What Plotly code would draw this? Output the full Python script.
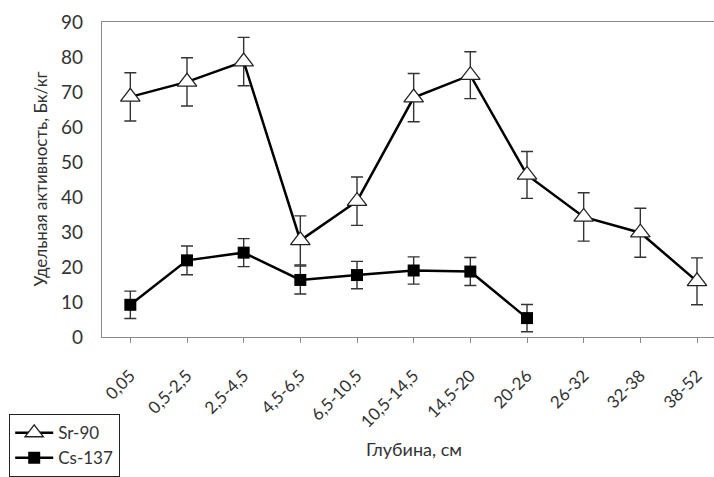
import plotly.graph_objects as go

# Depth intervals, cm
depths = ["0,05", "0,5-2,5", "2,5-4,5", "4,5-6,5", "6,5-10,5", "10,5-14,5",
          "14,5-20", "20-26", "26-32", "32-38", "38-52"]

# Specific activity, Bq/kg, with error bar half-widths
sr90 = [68.6, 72.9, 78.7, 27.6, 38.8, 68.4, 74.8, 46.3, 34.3, 29.8, 15.9]
sr90_err = [6.9, 6.9, 6.9, 7.0, 6.9, 6.9, 6.7, 6.7, 6.9, 7.0, 6.7]

cs137 = [9.2, 21.9, 24.1, 16.3, 17.7, 19.0, 18.7, 5.4]
cs137_err = [3.9, 4.1, 4.0, 4.0, 3.9, 3.9, 4.0, 3.9]

FONT = "Lato, 'Liberation Sans', sans-serif"
TXT = "#333333"
AX = "#8a8a8a"

fig = go.Figure()

fig.add_trace(go.Scatter(
    x=depths, y=sr90, name="Sr-90", mode="lines+markers",
    line=dict(color="black", width=2.5),
    marker=dict(symbol="triangle-up", size=17, color="white",
                line=dict(color="#222", width=1.3)),
    error_y=dict(type="data", array=sr90_err, visible=True,
                 color="#333", thickness=1.4, width=6),
))

fig.add_trace(go.Scatter(
    x=depths[:len(cs137)], y=cs137, name="Cs-137", mode="lines+markers",
    line=dict(color="black", width=2.5),
    marker=dict(symbol="square", size=12, color="black",
                line=dict(color="black", width=0)),
    error_y=dict(type="data", array=cs137_err, visible=True,
                 color="#333", thickness=1.4, width=6),
))

fig.update_layout(
    width=714, height=477,
    margin=dict(l=102, r=0, t=22, b=139),
    paper_bgcolor="white", plot_bgcolor="white",
    font=dict(family=FONT, color=TXT, size=15),
    showlegend=True,
    legend=dict(
        x=(9 - 102) / 612, y=(338 - 415) / 316, xanchor="left", yanchor="top",
        bgcolor="white", bordercolor="#222", borderwidth=1.2,
        font=dict(size=17, color=TXT), tracegroupgap=0,
        itemwidth=38,
    ),
    xaxis=dict(
        type="category", categoryorder="array", categoryarray=depths,
        range=[-0.5, 10.3],
        showline=True, linecolor=AX, linewidth=1.3, mirror=True,
        showgrid=False, zeroline=False,
        ticks="outside", ticklen=5, tickcolor=AX, tickwidth=1,
        tickangle=-45, ticklabelstandoff=16,
        tickfont=dict(size=17, color=TXT),
    ),
    yaxis=dict(
        range=[0, 90], dtick=10,
        showline=True, linecolor=AX, linewidth=1.3, mirror=False,
        showgrid=False, zeroline=False,
        ticks="", ticklabelstandoff=14,
        tickfont=dict(size=19, color=TXT),
    ),
    annotations=[
        dict(text="Удельная активность, Бк/кг", xref="paper", yref="paper",
             x=(40 - 102) / 612, y=0.5, textangle=-90, showarrow=False,
             xanchor="center", yanchor="middle",
             font=dict(size=17, color=TXT)),
        dict(text="Глубина, см", xref="x", yref="paper",
             x=5, y=(338 - 450) / 316, showarrow=False,
             xanchor="center", yanchor="middle",
             font=dict(size=18, color=TXT)),
    ],
)

fig.write_html("out.html")
